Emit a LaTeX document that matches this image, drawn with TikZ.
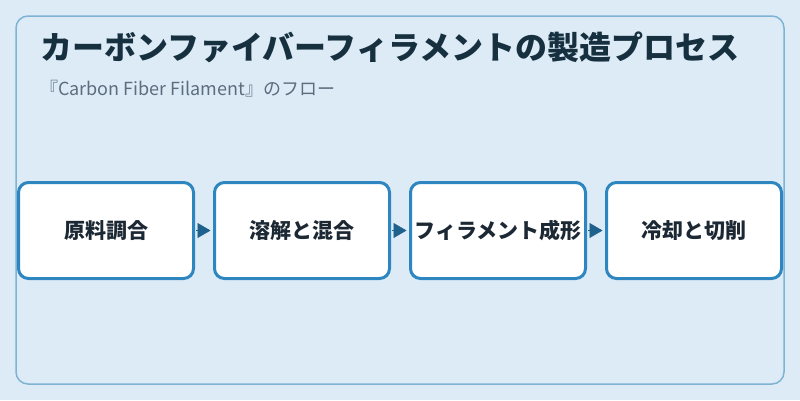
\documentclass[tikz,border=0pt]{standalone}
\usepackage{fontspec}
\setmainfont{Noto Sans CJK JP}
\usetikzlibrary{arrows.meta}
\definecolor{bgblue}{HTML}{DCEBF6}
\definecolor{frameblue}{HTML}{7FB3D5}
\definecolor{boxline}{HTML}{2E86C1}
\definecolor{arrowblue}{HTML}{1F618D}
\definecolor{titletext}{HTML}{17303F}
\definecolor{subtext}{HTML}{5D6D7E}
\definecolor{boxtext}{HTML}{1C2833}

\begin{document}
\begin{tikzpicture}[x=1pt,y=1pt]
\tikzstyle{every node}+=[inner sep=0pt]
\tikzstyle{stepbox}=[draw=boxline, line width=3pt, fill=white, rounded corners=10pt, minimum width=175pt, minimum height=96pt, font=\fontsize{21}{25}\selectfont\bfseries, text=boxtext]
\tikzstyle{flow}=[-{Triangle[length=13pt,width=15pt]}, draw=arrowblue, fill=arrowblue, line width=0.5pt, shorten >=2.5pt, shorten <=1pt]
\fill [bgblue] (0,0) rectangle (800,-400);
\draw [frameblue, line width=1.5pt, rounded corners=12pt] (16,-16) rectangle (784,-384);
\draw (40,-47.5) node [anchor=west, text=titletext, font=\fontsize{32}{38}\selectfont\bfseries] (title) {カーボンファイバーフィラメントの製造プロセス};
\draw (40,-89) node [anchor=west, text=subtext, font=\fontsize{18}{22}\selectfont] (subtitle) {『Carbon Fiber Filament』のフロー};
\draw (106,-230.5) node [stepbox] (blend) {原料調合};
\draw (302,-230.5) node [stepbox] (melt) {溶解と混合};
\draw (498,-230.5) node [stepbox] (form) {フィラメント成形};
\draw (694,-230.5) node [stepbox] (cool) {冷却と切削};
\draw [flow] (blend) -- (melt);
\draw [flow] (melt) -- (form);
\draw [flow] (form) -- (cool);
\end{tikzpicture}
\end{document}
